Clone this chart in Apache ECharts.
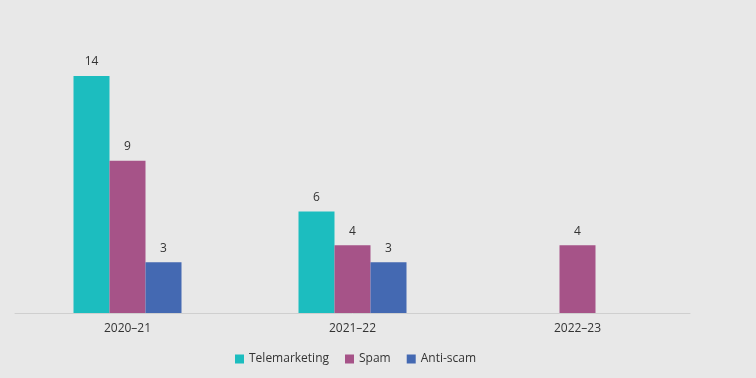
<!DOCTYPE html>
<html>
<head>
<meta charset="utf-8">
<script src="https://cdn.jsdelivr.net/npm/echarts@6/dist/echarts.min.js"></script>
<style>
  html, body { margin: 0; padding: 0; background: #e8e8e8; }
  #chart { width: 756px; height: 378px; }
</style>
</head>
<body>
<div id="chart"></div>
<script>
const categories = ['2020–21', '2021–22', '2022–23']
const telemarketing = [14, 6, null]
const spam = [9, 4, 4]
const antiScam = [3, 3, null]

const chart = echarts.init(document.getElementById('chart'))
const label = {
  show: true,
  position: 'top',
  distance: 8,
  color: '#333',
  fontSize: 12,
  fontFamily: 'Open Sans'
}
chart.setOption({
  backgroundColor: '#e8e8e8',
  textStyle: { fontFamily: 'Open Sans' },
  grid: { left: 15, right: 66, top: 76, bottom: 65 },
  legend: {
    data: ['Telemarketing', 'Spam', 'Anti-scam'],
    left: 230,
    top: 348,
    itemWidth: 9,
    itemHeight: 9,
    itemGap: 16,
    icon: 'rect',
    textStyle: { color: '#333', fontSize: 12, fontFamily: 'Open Sans' }
  },
  xAxis: {
    type: 'category',
    data: categories,
    axisLine: { lineStyle: { color: '#cfcfcf' } },
    axisTick: { show: false },
    axisLabel: { color: '#333', fontSize: 12, margin: 10 }
  },
  yAxis: {
    type: 'value',
    min: 0,
    max: 14,
    show: false,
    splitLine: { show: false }
  },
  series: [
    { name: 'Telemarketing', type: 'bar', data: telemarketing, barWidth: 36, barGap: '0%', itemStyle: { color: '#1cbdbf' }, label: label },
    { name: 'Spam', type: 'bar', data: spam, barWidth: 36, barGap: '0%', itemStyle: { color: '#a65388' }, label: label },
    { name: 'Anti-scam', type: 'bar', data: antiScam, barWidth: 36, barGap: '0%', itemStyle: { color: '#4469b2' }, label: label }
  ]
})
</script>
</body>
</html>
